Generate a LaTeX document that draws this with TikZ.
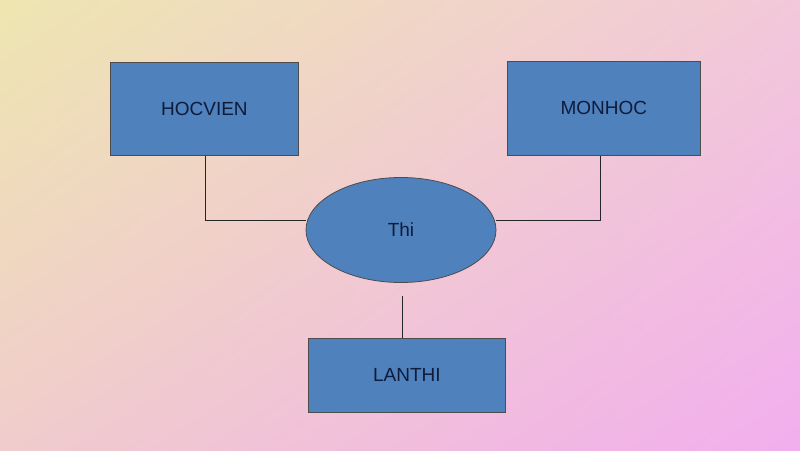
\documentclass[tikz,border=0pt]{standalone}
\usepackage{fontspec}
\setmainfont{Liberation Sans}
\usetikzlibrary{shapes.geometric,shadings}
\definecolor{bfill}{HTML}{4F81BD}
\definecolor{btext}{HTML}{0F1B3A}
\definecolor{cul}{HTML}{EEE6B0}
\definecolor{cur}{HTML}{F2C8DA}
\definecolor{cll}{HTML}{F0CCCC}
\definecolor{clr}{HTML}{F2AEEE}
\tikzset{ent/.style={draw=black!70,fill=bfill,line width=0.8pt,text=btext,font=\fontsize{19}{22}\selectfont,anchor=north west,inner sep=0pt},
 ln/.style={draw=black!85,line width=0.8pt}}
\begin{document}
\begin{tikzpicture}[x=1pt,y=-1pt]
\useasboundingbox (0,0) rectangle (800,450);
\shade[upper left=cul,upper right=cur,lower left=cll,lower right=clr] (0,0) rectangle (800,450);
\node[ent,minimum width=188pt,minimum height=93pt] (hv) at (110,62) {HOCVIEN};
\node[ent,minimum width=193pt,minimum height=94pt] (mh) at (507,61) {MONHOC};
\node[ent,minimum width=197pt,minimum height=74pt] (lt) at (308,338) {LANTHI};
\node[draw=black!70,fill=bfill,line width=0.8pt,text=btext,font=\fontsize{19}{22}\selectfont,ellipse,minimum width=190pt,minimum height=105pt,inner sep=0pt] (thi) at (401,230) {Thi};
\coordinate (c1) at (205,220);
\coordinate (c2) at (600,220);
\coordinate (c3) at (402,296);
\draw[ln] (hv.south -| c1) -- (c1) -- (c1 -| thi.west);
\draw[ln] (mh.south -| c2) -- (c2) -- (c2 -| thi.east);
\draw[ln] (c3) -- (c3 |- lt.north);
\end{tikzpicture}
\end{document}
